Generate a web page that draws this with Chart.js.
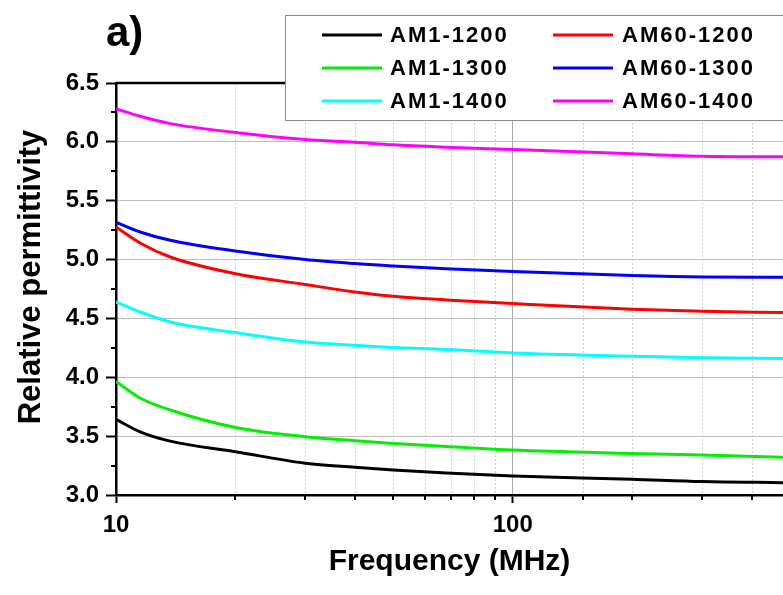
<!DOCTYPE html>
<html>
<head>
<meta charset="utf-8">
<script src="https://cdn.jsdelivr.net/npm/chart.js@4/dist/chart.umd.min.js"></script>
<style>
  html, body { margin: 0; padding: 0; background: #fff; overflow: hidden; }
  #wrap { width: 791px; height: 595px; position: relative; }
</style>
</head>
<body>
<div id="wrap"><canvas id="chart"></canvas></div>
<script>
// frequency points (MHz)
const freqs = [10, 11.5, 13.7, 20, 30, 40, 50, 68, 100, 200, 300, 480];

const seriesNames = ["AM1-1200", "AM1-1300", "AM1-1400", "AM60-1200", "AM60-1300", "AM60-1400"];
const seriesColors = ["#000000", "#00f000", "#00ffff", "#ff0000", "#0000ff", "#ff00ff"];

const am1_1200 = [3.642, 3.537, 3.458, 3.368, 3.270, 3.236, 3.213, 3.187, 3.162, 3.134, 3.114, 3.105];
const am1_1300 = [3.965, 3.824, 3.722, 3.574, 3.495, 3.461, 3.438, 3.413, 3.382, 3.353, 3.339, 3.320];
const am1_1400 = [4.640, 4.555, 4.470, 4.380, 4.300, 4.272, 4.253, 4.236, 4.207, 4.179, 4.165, 4.160];
const am60_1200 = [5.277, 5.141, 5.022, 4.880, 4.788, 4.725, 4.688, 4.657, 4.626, 4.578, 4.561, 4.550];
const am60_1300 = [5.317, 5.234, 5.164, 5.073, 5.000, 4.966, 4.946, 4.922, 4.898, 4.864, 4.852, 4.850];
const am60_1400 = [6.280, 6.217, 6.155, 6.080, 6.020, 5.997, 5.975, 5.955, 5.935, 5.898, 5.878, 5.873];

const allSeries = [am1_1200, am1_1300, am1_1400, am60_1200, am60_1300, am60_1400];

const xMajor = [10, 100];
const yTickLabels = ["3.0", "3.5", "4.0", "4.5", "5.0", "5.5", "6.0", "6.5"];

const FONT = "'Liberation Sans', Arial, sans-serif";

function isMajorX(v) {
  return xMajor.some(m => Math.abs(v - m) < 1e-6);
}

// dotted minor grid, minor ticks, top frame line
const framePlugin = {
  id: "frame",
  beforeDatasetsDraw(chart) {
    const { ctx, chartArea: a, scales: { x } } = chart;
    ctx.save();
    ctx.strokeStyle = "#cfcfcf";
    ctx.lineWidth = 1;
    ctx.setLineDash([2, 2]);
    x.ticks.forEach(t => {
      if (isMajorX(t.value) || t.value >= x.max) return;
      const px = Math.round(x.getPixelForValue(t.value)) + 0.5;
      ctx.beginPath();
      ctx.moveTo(px, a.top);
      ctx.lineTo(px, a.bottom);
      ctx.stroke();
    });
    ctx.restore();
  },
  afterDraw(chart) {
    const { ctx, chartArea: a, scales: { x, y } } = chart;
    ctx.save();
    ctx.strokeStyle = "#000";
    ctx.lineWidth = 2;
    // minor x ticks
    x.ticks.forEach(t => {
      if (isMajorX(t.value) || t.value >= x.max) return;
      const px = Math.round(x.getPixelForValue(t.value));
      ctx.beginPath();
      ctx.moveTo(px, a.bottom);
      ctx.lineTo(px, a.bottom + 5);
      ctx.stroke();
    });
    // minor y ticks
    for (let v = y.min + 0.25; v < y.max; v += 0.5) {
      const py = Math.round(y.getPixelForValue(v));
      ctx.beginPath();
      ctx.moveTo(a.left - 5, py);
      ctx.lineTo(a.left, py);
      ctx.stroke();
    }
    // top frame
    ctx.lineWidth = 2.5;
    ctx.beginPath();
    ctx.moveTo(a.left, a.top);
    ctx.lineTo(a.right, a.top);
    ctx.stroke();

    // y axis title, sitting a little above the plot centre as in the original
    ctx.fillStyle = "#000";
    ctx.font = "bold 31px " + FONT;
    ctx.textAlign = "center";
    ctx.textBaseline = "middle";
    ctx.translate(31, (a.top + a.bottom) / 2 - 12);
    ctx.rotate(-Math.PI / 2);
    ctx.fillText("Relative permittivity", 0, 0);
    ctx.restore();
  }
};

// boxed two-column legend and panel label
const legendPlugin = {
  id: "boxLegend",
  afterDraw(chart) {
    const { ctx } = chart;
    ctx.save();
    ctx.fillStyle = "#fff";
    ctx.strokeStyle = "#8a8a8a";
    ctx.lineWidth = 1;
    ctx.fillRect(285, 15, 520, 105);
    ctx.strokeRect(285.5, 15.5, 520, 105);

    ctx.font = "bold 22px " + FONT;
    ctx.letterSpacing = "2px";
    ctx.textBaseline = "middle";
    ctx.textAlign = "left";
    const rows = [35, 68, 101];
    const cols = [{ l: 322, t: 390 }, { l: 553, t: 622 }];
    chart.data.datasets.forEach((ds, i) => {
      const c = cols[Math.floor(i / 3)];
      const r = rows[i % 3];
      ctx.strokeStyle = ds.borderColor;
      ctx.lineWidth = 3;
      ctx.beginPath();
      ctx.moveTo(c.l, r);
      ctx.lineTo(c.l + 60, r);
      ctx.stroke();
      ctx.fillStyle = "#000";
      ctx.fillText(ds.label, c.t, r + 1);
    });

    ctx.letterSpacing = "0px";
    ctx.font = "bold 42px " + FONT;
    ctx.textBaseline = "alphabetic";
    ctx.fillText("a)", 106, 46);
    ctx.restore();
  }
};

const datasets = seriesNames.map((name, i) => ({
  label: name,
  data: freqs.map((f, j) => ({ x: f, y: allSeries[i][j] })),
  borderColor: seriesColors[i],
  backgroundColor: seriesColors[i],
  borderWidth: 3,
  pointRadius: 0,
  cubicInterpolationMode: "monotone",
  fill: false
}));

new Chart(document.getElementById("chart"), {
  type: "line",
  data: { datasets },
  options: {
    responsive: true,
    maintainAspectRatio: false,
    animation: false,
    layout: { padding: { top: 83, right: 0, left: 0, bottom: 0 } },
    plugins: {
      legend: { display: false },
      tooltip: { enabled: false }
    },
    scales: {
      x: {
        type: "logarithmic",
        min: 10,
        max: 480,
        afterFit(scale) { scale.height = 100; },
        border: { color: "#000", width: 2.5 },
        grid: {
          color: c => (c.tick && Math.abs(c.tick.value - 100) < 1e-6) ? "#a8a8a8" : "rgba(0,0,0,0)",
          tickColor: c => (c.tick && isMajorX(c.tick.value)) ? "#000" : "rgba(0,0,0,0)",
          tickLength: 8,
          tickWidth: 2
        },
        ticks: {
          autoSkip: false,
          maxRotation: 0,
          padding: 8,
          color: "#000",
          font: { family: FONT, weight: "bold", size: 24 },
          callback: v => isMajorX(v) ? String(v) : ""
        },
        title: {
          display: true,
          text: "Frequency (MHz)",
          color: "#000",
          font: { family: FONT, weight: "bold", size: 30 },
          padding: { top: 0, bottom: 15 }
        }
      },
      y: {
        min: 3.0,
        max: 6.5,
        afterFit(scale) { scale.width = 116; },
        border: { color: "#000", width: 2.5 },
        grid: {
          color: c => (c.tick && (c.tick.value === 3.0 || c.tick.value === 6.5)) ? "rgba(0,0,0,0)" : "#bdbdbd",
          tickColor: "#000",
          tickLength: 10,
          tickWidth: 2
        },
        ticks: {
          stepSize: 0.5,
          padding: 7,
          color: "#000",
          font: { family: FONT, weight: "bold", size: 24 },
          callback: (v, i) => yTickLabels[i]
        }
      }
    }
  },
  plugins: [framePlugin, legendPlugin]
});
</script>
</body>
</html>
